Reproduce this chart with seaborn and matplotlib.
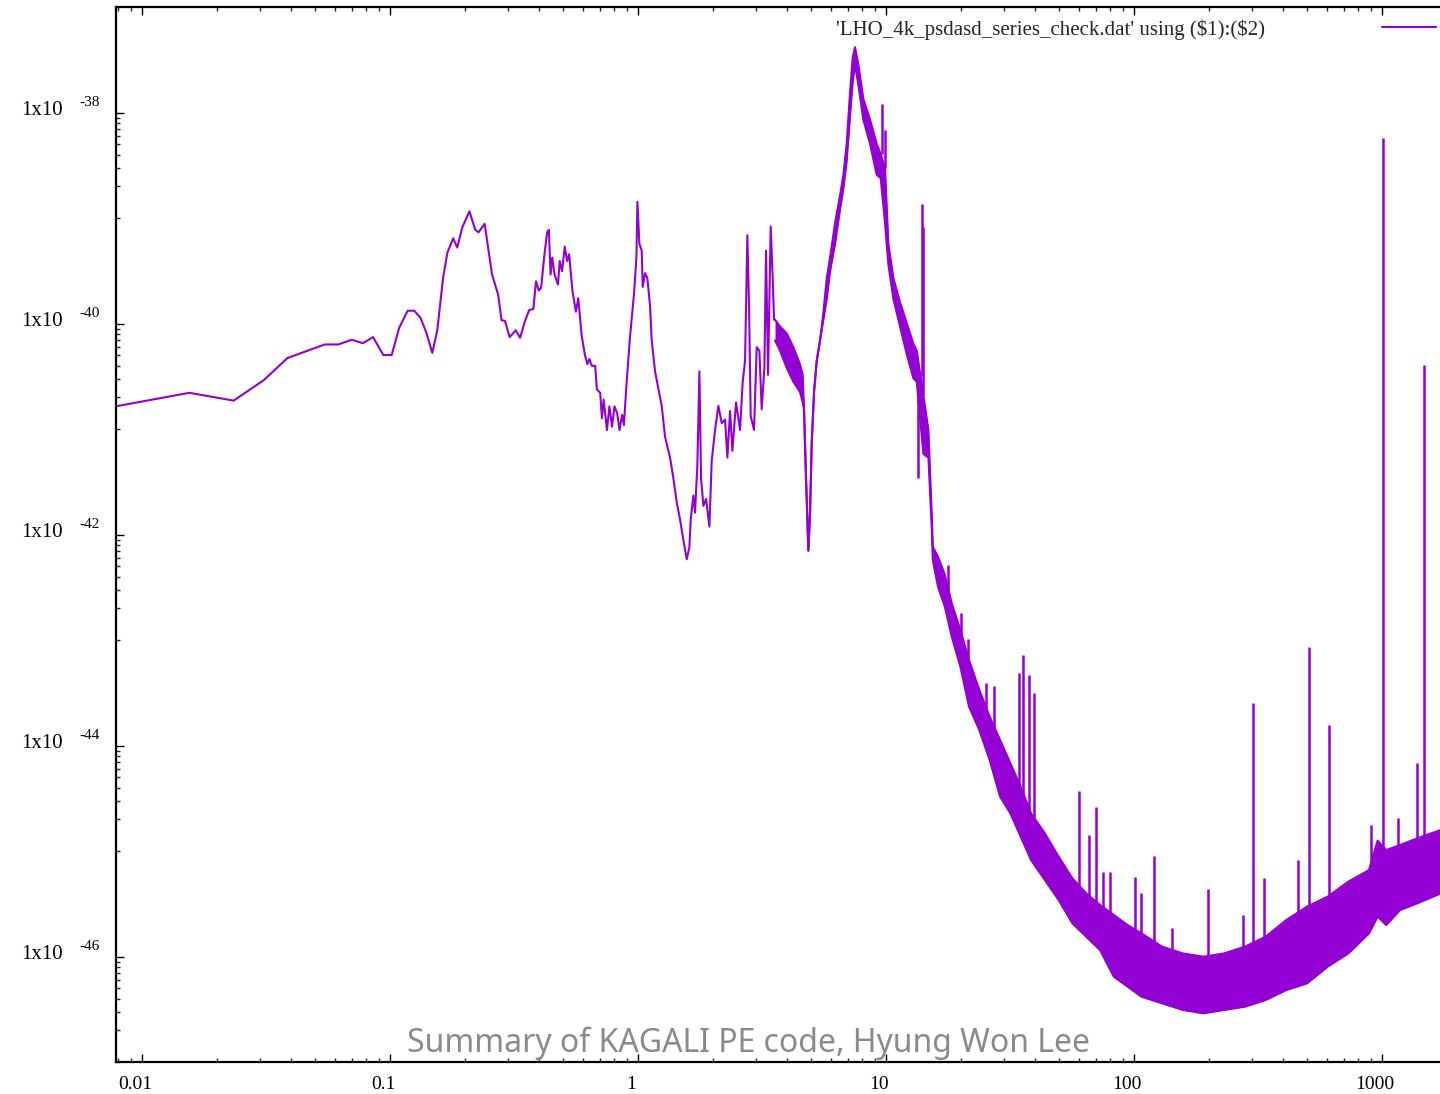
import numpy as np
import matplotlib
matplotlib.use("Agg")
import matplotlib.pyplot as plt
import matplotlib.transforms as mtransforms
from matplotlib.ticker import FixedLocator, NullFormatter
import seaborn as sns

# ---------------------------------------------------------------------------
# LHO 4k one-sided PSD (strain^2 / Hz) versus frequency (Hz)
# PSD values are kept as log10 exponents.
# ---------------------------------------------------------------------------

# Low-frequency part: a single resolved trace, 1/128 Hz .. 3.5 Hz
trace_freq = [
    0.0078125, 0.0155, 0.0234, 0.0310, 0.0386, 0.0545, 0.0618, 0.0701, 0.0777,
    0.0854, 0.0939, 0.1015, 0.1088, 0.1177, 0.1252, 0.1326, 0.1398, 0.1480,
    0.1550, 0.1636, 0.1703, 0.1797, 0.1866, 0.1956, 0.2089, 0.2204, 0.2274,
    0.2406, 0.2578, 0.2729, 0.2815, 0.2905, 0.3035, 0.3211, 0.3345, 0.3508,
    0.3642, 0.3782, 0.3878, 0.3977, 0.4064, 0.4194, 0.4300, 0.4369, 0.4438,
    0.4508, 0.4608, 0.4755, 0.4831, 0.4937, 0.5063, 0.5176, 0.5273, 0.5442,
    0.5615, 0.5741, 0.5924, 0.6112, 0.6249, 0.6366, 0.6508, 0.6715, 0.6822,
    0.7038, 0.7151, 0.7264, 0.7495, 0.7661, 0.7855, 0.8030, 0.8236, 0.8417,
    0.8631, 0.8770, 0.8993, 0.9279, 0.9636, 0.9849, 0.9943, 1.0125, 1.0347,
    1.0443, 1.0671, 1.0904, 1.1178, 1.1353, 1.1709, 1.2078, 1.2457, 1.2850,
    1.3459, 1.3883, 1.4321, 1.4772, 1.5237, 1.5717, 1.6106, 1.6307, 1.6716,
    1.6977, 1.7349, 1.7675, 1.7950, 1.8343, 1.8805, 1.9398, 1.9815, 2.0440,
    2.1083, 2.1748, 2.2430, 2.2922, 2.3496, 2.4010, 2.4843, 2.5781, 2.6424,
    2.7004, 2.7595, 2.8027, 2.8464, 2.9358, 3.0096, 3.0849, 3.1523, 3.2316,
    3.2819, 3.3437, 3.4273, 3.4914, 3.5351,
]
trace_log_psd = [
    -40.784, -40.655, -40.729, -40.534, -40.325, -40.197, -40.197, -40.152, -40.185,
    -40.127, -40.297, -40.297, -40.040, -39.877, -39.877, -39.944, -40.079, -40.277,
    -40.063, -39.566, -39.326, -39.191, -39.278, -39.086, -38.935, -39.108, -39.134,
    -39.053, -39.534, -39.726, -39.967, -39.973, -40.127, -40.063, -40.133, -39.967,
    -39.870, -39.861, -39.598, -39.685, -39.662, -39.342, -39.134, -39.111, -39.534,
    -39.374, -39.534, -39.630, -39.406, -39.502, -39.271, -39.406, -39.342, -39.694,
    -39.886, -39.758, -40.111, -40.303, -40.383, -40.335, -40.399, -40.399, -40.623,
    -40.655, -40.896, -40.720, -41.008, -40.784, -40.976, -40.784, -40.848, -41.008,
    -40.864, -40.960, -40.559, -40.127, -39.710, -39.374, -38.845, -39.242, -39.308,
    -39.651, -39.520, -39.569, -39.831, -40.158, -40.452, -40.615, -40.779, -41.073,
    -41.269, -41.465, -41.694, -41.857, -42.053, -42.233, -42.119, -41.857, -41.628,
    -41.792, -41.334, -40.452, -41.465, -41.727, -41.661, -41.923, -41.302, -41.007,
    -40.779, -40.942, -40.909, -41.269, -40.828, -41.204, -40.746, -41.007, -40.550,
    -40.354, -39.161, -39.831, -40.877, -41.007, -40.223, -40.256, -40.811, -40.419,
    -39.308, -40.485, -39.079, -39.569, -39.962,
]

# Densely sampled part: upper / lower envelope of the noise band, 3.5 Hz .. 1.7 kHz
band_freq = [
    3.568, 3.738, 3.976, 4.230, 4.500, 4.613, 4.670, 4.758, 4.862, 4.938, 5.015,
    5.125, 5.253, 5.419, 5.590, 5.767, 5.947, 6.230, 6.525, 6.730, 6.940, 7.160,
    7.339, 7.499, 7.734, 8.101, 8.620, 9.171, 9.517, 9.908, 10.22, 10.71, 11.39,
    12.12, 12.89, 13.30, 14.15, 14.82, 15.28, 15.44, 16.20, 17.27, 18.41, 19.94,
    21.61, 23.78, 26.18, 28.83, 31.73, 34.92, 38.45, 43.70, 49.67, 56.46, 64.18,
    72.94, 82.90, 94.23, 107.1, 129.8, 157.3, 190.5, 230.9, 279.9, 339.2, 411.0,
    498.0, 603.4, 731.2, 886.1, 960.1, 1040.0, 1182.0, 1387.0, 1725.0,
]
band_log_hi = [
    -39.962, -40.027, -40.092, -40.223, -40.386, -40.484, -40.811, -41.465, -42.151,
    -41.792, -41.138, -40.648, -40.354, -40.158, -39.896, -39.569, -39.373, -39.046,
    -38.785, -38.589, -38.295, -37.804, -37.477, -37.379, -37.543, -37.870, -38.066,
    -38.295, -38.393, -38.523, -39.242, -39.569, -39.798, -39.994, -40.190, -40.256,
    -40.681, -41.007, -41.792, -42.114, -42.209, -42.382, -42.651, -42.904, -43.188,
    -43.472, -43.725, -43.946, -44.167, -44.389, -44.641, -44.831, -45.052, -45.258,
    -45.400, -45.510, -45.605, -45.700, -45.779, -45.905, -45.969, -46.000, -45.969,
    -45.905, -45.811, -45.653, -45.526, -45.431, -45.289, -45.179, -44.900,
    -44.989, -44.942, -44.878, -44.799,
]
band_log_lo = [
    -40.158, -40.256, -40.419, -40.550, -40.648, -40.746, -40.811, -41.465, -42.151,
    -41.792, -41.138, -40.648, -40.354, -40.158, -39.962, -39.765, -39.504, -39.242,
    -38.916, -38.719, -38.458, -38.033, -37.706, -37.543, -37.739, -38.066, -38.295,
    -38.589, -38.621, -39.046, -39.438, -39.765, -40.027, -40.288, -40.517, -40.550,
    -41.236, -41.269, -41.923, -42.240, -42.493, -42.683, -42.967, -43.251, -43.630,
    -43.852, -44.136, -44.483, -44.641, -44.863, -45.084, -45.273, -45.463, -45.684,
    -45.811, -45.937, -46.190, -46.284, -46.379, -46.442, -46.505, -46.537, -46.505,
    -46.474, -46.411, -46.316, -46.253, -46.095, -45.969, -45.779, -45.620,
    -45.700, -45.558, -45.494, -45.400,
]

# Narrow spectral lines: frequency, line peak and where it leaves the band
spike_freq = [
    9.607, 9.908, 13.50, 13.92, 14.15, 17.83, 20.14, 21.47, 25.19, 27.21, 34.38,
    35.81, 37.58, 39.45, 59.78, 65.85, 70.22, 75.25, 80.24, 100.5, 106.4, 120.5,
    141.9, 198.6, 275.9, 303.0, 333.8, 459.7, 505.8, 613.1, 900.4, 1004.7, 1163.0,
    1387.0, 1481.0,
]
spike_log_top = [
    -37.919, -38.164, -41.465, -38.867, -39.079, -42.287, -42.739, -42.991, -43.408,
    -43.431, -43.314, -43.140, -43.330, -43.498, -44.427, -44.846, -44.584, -45.194,
    -45.194, -45.242, -45.393, -45.045, -45.731, -45.361, -45.605, -43.598, -45.257,
    -45.083, -43.062, -43.804, -44.752, -38.240, -44.688, -44.167, -40.391,
]
spike_log_base = [
    -38.39, -38.52, -40.55, -40.50, -40.68, -42.572, -42.999, -43.236, -43.662,
    -43.852, -44.420, -44.515, -44.629, -44.723, -45.368, -45.462, -45.538, -45.576,
    -45.633, -45.794, -45.822, -45.917, -45.983, -46.050, -45.955, -45.936, -45.870,
    -45.633, -45.576, -45.481, -45.178, -45.083, -45.007, -44.941, -44.912,
]

x_major = [0.01, 0.1, 1, 10, 100, 1000]
x_major_labels = ["0.01", "0.1", "1", "10", "100", "1000"]
y_major_exponents = [-38, -40, -42, -44, -46]

legend_label = r"'LHO_4k_psdasd_series_check.dat' using (\$1):(\$2)"
footer_text = "Summary of KAGALI PE code, Hyung Won Lee"

# ---------------------------------------------------------------------------
sns.set_style("ticks")
plt.rcParams["font.family"] = ["Liberation Serif", "DejaVu Serif"]
plt.rcParams["axes.linewidth"] = 1.6

LINE = "#9400d3"
W, H = 1440, 1094
fig = plt.figure(figsize=(W / 100, H / 100), dpi=100)
fig.patch.set_facecolor("white")

left_px, right_px, top_px, bottom_px = 115.5, 1459.2, 7.2, 1062.2
ax = fig.add_axes([left_px / W, 1 - bottom_px / H,
                   (right_px - left_px) / W, (bottom_px - top_px) / H])
ax.set_facecolor("white")
ax.set_xscale("log")
ax.set_yscale("log")

tf = np.array(trace_freq)
bf = np.array(band_freq)

sns.lineplot(x=tf, y=10.0 ** np.array(trace_log_psd), ax=ax, color=LINE,
             lw=1.5, estimator=None, sort=False, label=legend_label)
ax.fill_between(bf, 10.0 ** np.array(band_log_lo), 10.0 ** np.array(band_log_hi),
                color=LINE, lw=0)
for edge in (band_log_hi, band_log_lo):
    sns.lineplot(x=bf, y=10.0 ** np.array(edge), ax=ax, color=LINE, lw=1.5,
                 estimator=None, sort=False, legend=False)
ax.vlines(spike_freq, 10.0 ** np.array(spike_log_base),
          10.0 ** np.array(spike_log_top), color=LINE, lw=1.8)

ax.set_xlim(1 / 128, 2048)
ax.set_ylim(1e-47, 1e-37)
ax.set_xlabel("")
ax.set_ylabel("")

# ticks: gnuplot-like, inward on all four sides
ax.xaxis.set_major_locator(FixedLocator(x_major))
ax.xaxis.set_minor_locator(FixedLocator(
    [m * 10.0 ** e for e in range(-3, 4) for m in range(2, 10)]))
ax.set_xticklabels(x_major_labels)
ax.xaxis.set_minor_formatter(NullFormatter())
ax.yaxis.set_major_locator(FixedLocator([10.0 ** e for e in y_major_exponents]))
ax.yaxis.set_minor_locator(FixedLocator(
    [m * 10.0 ** e for e in (-47, -45, -43, -41, -39) for m in range(1, 10)]))
ax.yaxis.set_major_formatter(NullFormatter())
ax.yaxis.set_minor_formatter(NullFormatter())
ax.tick_params(which="major", direction="in", length=6, width=1.0,
               top=True, right=True, labelsize=14, pad=10, colors="black")
ax.tick_params(which="minor", direction="in", length=3, width=1.0,
               top=True, right=True)
shift = mtransforms.ScaledTranslation(-7 / 100, 0, fig.dpi_scale_trans)
for lab in ax.get_xticklabels():
    lab.set_transform(lab.get_transform() + shift)

# y labels in the "1x10^{-n}" style
for e in y_major_exponents:
    ax.annotate("1x10", xy=(0, 10.0 ** e), xycoords=("axes fraction", "data"),
                xytext=(-53, 2), textcoords="offset pixels",
                ha="right", va="center", fontsize=15, color="black")
    ax.annotate(f"{e}", xy=(0, 10.0 ** e), xycoords=("axes fraction", "data"),
                xytext=(-36, 10), textcoords="offset pixels",
                ha="left", va="center", fontsize=11, color="black")

for sp in ax.spines.values():
    sp.set_color("black")
    sp.set_linewidth(1.6)

ax.legend(loc="upper right", bbox_to_anchor=(1436 / W, 1 - 19 / H),
          bbox_transform=fig.transFigure, frameon=False, markerfirst=False,
          handlelength=2.6, handletextpad=5.6, borderpad=0, borderaxespad=0,
          fontsize=15)

fig.text((410 + 1087) / 2 / W, 1 - 1052 / H, footer_text, ha="center",
         va="baseline", fontsize=23, color="#8a8a8a",
         family=["Noto Sans", "DejaVu Sans"], zorder=10)

fig.savefig("out.png", dpi=100, facecolor="white")
